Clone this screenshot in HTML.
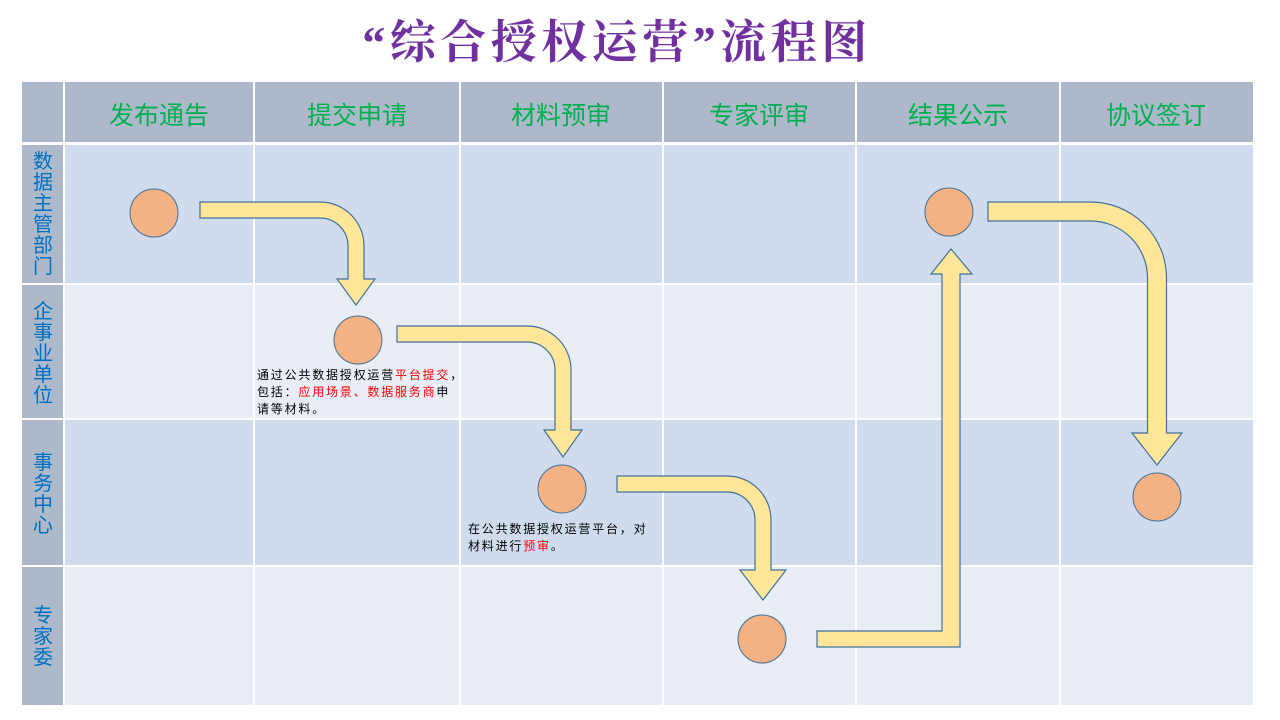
<!DOCTYPE html>
<html><head><meta charset="utf-8"><style>
body{margin:0;width:1280px;height:720px;background:#fff;overflow:hidden;font-family:"Liberation Sans","Noto Sans CJK SC",sans-serif;}
</style></head><body>
<svg width="1280" height="720" xmlns="http://www.w3.org/2000/svg" style="position:absolute;left:0;top:0">
<text x="617" y="58" text-anchor="middle" font-family="'Liberation Serif','Noto Serif CJK SC',serif" font-weight="bold" font-size="46" letter-spacing="4.5" fill="#7030a0">“综合授权运营”流程图</text>
<rect x="22" y="82" width="1231" height="60" fill="#adb9ca"/>
<rect x="22" y="145" width="42" height="560" fill="#adb9ca"/>
<rect x="64" y="145" width="1189" height="138" fill="#d0dcee"/>
<rect x="64" y="285" width="1189" height="133" fill="#e9edf6"/>
<rect x="64" y="420" width="1189" height="145" fill="#d0dcee"/>
<rect x="64" y="567" width="1189" height="138" fill="#e9edf6"/>
<g stroke="#fff" stroke-width="2">
<line x1="0" y1="143.5" x2="1280" y2="143.5" stroke-width="3"/>
<line x1="22" y1="284" x2="1253" y2="284"/>
<line x1="22" y1="419" x2="1253" y2="419"/>
<line x1="22" y1="566" x2="1253" y2="566"/>
<line x1="64" y1="82" x2="64" y2="705"/>
<line x1="254" y1="82" x2="254" y2="705"/>
<line x1="460" y1="82" x2="460" y2="705"/>
<line x1="663" y1="82" x2="663" y2="705"/>
<line x1="856" y1="82" x2="856" y2="705"/>
<line x1="1060" y1="82" x2="1060" y2="705"/>
</g>
<g font-size="25" fill="#00b050" text-anchor="middle">
<text x="159" y="124">发布通告</text>
<text x="357" y="124">提交申请</text>
<text x="561" y="124">材料预审</text>
<text x="759" y="124">专家评审</text>
<text x="958" y="124">结果公示</text>
<text x="1156" y="124">协议签订</text>
</g>
<g font-size="20" fill="#0070c0" text-anchor="middle">
<text x="43" y="168">数</text><text x="43" y="189">据</text><text x="43" y="210">主</text><text x="43" y="231">管</text><text x="43" y="252">部</text><text x="43" y="273">门</text>
<text x="43" y="318">企</text><text x="43" y="339">事</text><text x="43" y="360">业</text><text x="43" y="381">单</text><text x="43" y="402">位</text>
<text x="43" y="469">事</text><text x="43" y="490">务</text><text x="43" y="511">中</text><text x="43" y="532">心</text>
<text x="43" y="622">专</text><text x="43" y="643">家</text><text x="43" y="664">委</text>
</g>
<g fill="#ffe699" stroke="#41719c" stroke-width="1.2">
<path d="M200 202 H320 A44 44 0 0 1 364 246 V279 H375 L356 305 L337 279 H348 V246 A28 28 0 0 0 320 218 H200 Z"/>
<path d="M397 326 H527 A44 44 0 0 1 571 370 V430 H582 L563 457 L544 430 H555 V370 A28 28 0 0 0 527 342 H397 Z"/>
<path d="M617 476 H727 A44 44 0 0 1 771 520 V570 H786 L763 600 L740 570 H755 V520 A28 28 0 0 0 727 492 H617 Z"/>
<path d="M988 202 H1090.5 A76 76 0 0 1 1166.5 278 V433 H1182 L1157 465 L1132 433 H1147.5 V278 A57 57 0 0 0 1090.5 221 H988 Z"/>
<path d="M817 631 H942 V274 H931 L951 249 L972 274 H960 V647 H817 Z"/>
</g>
<g fill="#f4b183" stroke="#41719c" stroke-width="1">
<circle cx="154" cy="213" r="24"/>
<circle cx="358" cy="340" r="24"/>
<circle cx="562" cy="489" r="24"/>
<circle cx="762" cy="639" r="24"/>
<circle cx="949" cy="212" r="24"/>
<circle cx="1157" cy="497" r="24"/>
</g>
<g font-size="12" letter-spacing="1.8" fill="#000">
<text x="257" y="379">通过公共数据授权运营<tspan fill="#ff0000">平台提交</tspan>，</text>
<text x="257" y="396">包括：<tspan fill="#ff0000">应用场景、数据服务商</tspan>申</text>
<text x="257" y="413">请等材料。</text>
<text x="468" y="533">在公共数据授权运营平台，对</text>
<text x="468" y="550">材料进行<tspan fill="#ff0000">预审</tspan>。</text>
</g>
</svg>
</body></html>
